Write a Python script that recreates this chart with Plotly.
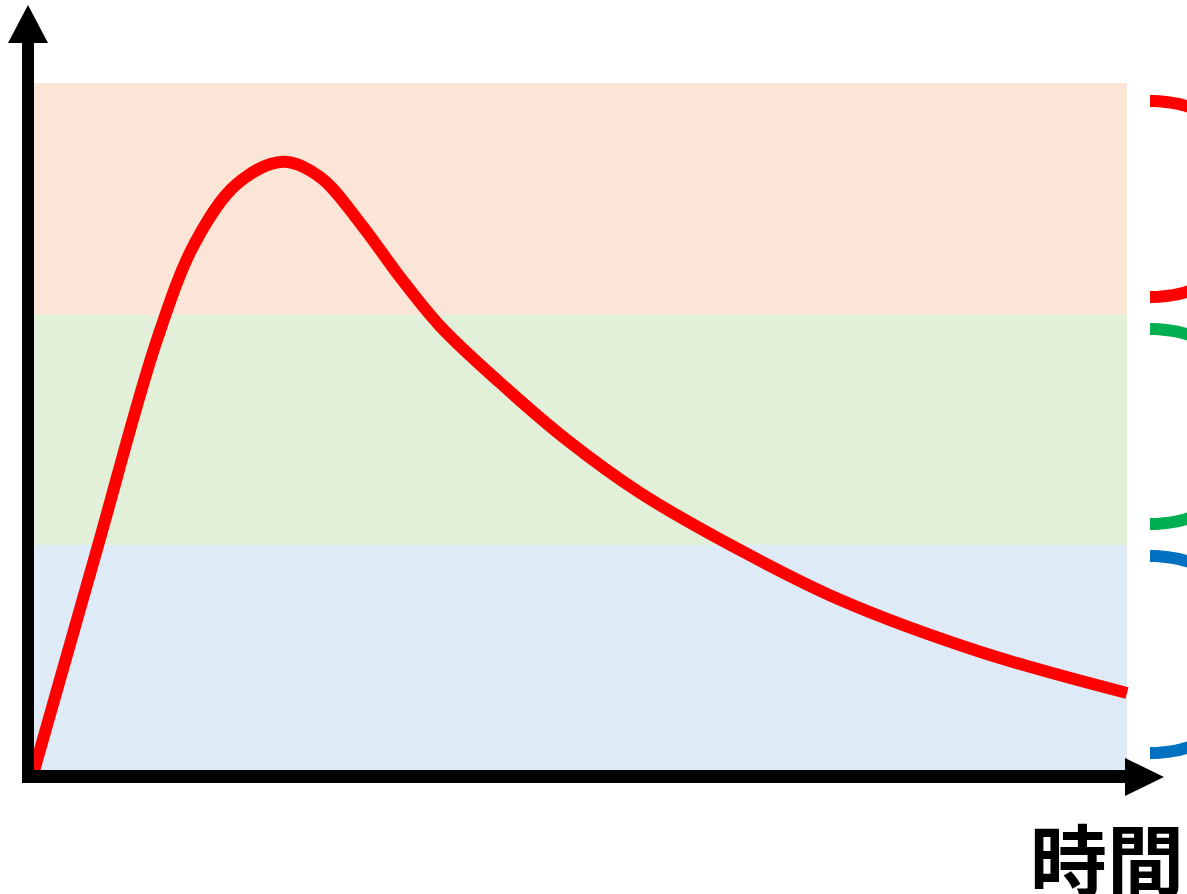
import math
import plotly.graph_objects as go

# ---- data ----
time_pts = [0, 5.76, 11.25, 14.73, 18.57, 22.78, 26.17, 29.83, 33.49, 37.15,
            42.63, 48.76, 55.44, 64.59, 73.74, 86.55, 100]
conc_pts = [0, 29.0, 56.4, 69.1, 76.8, 79.7, 77.7, 71.7, 64.6, 58.2,
            50.8, 43.3, 36.4, 28.9, 22.4, 15.6, 10.2]

band_low = [0, 29.6, 59.7]
band_high = [29.6, 59.7, 90]
band_fill = ["#DEEBF7", "#E2F0D9", "#FBE5D6"]
bracket_color = ["#0070C0", "#00B050", "#FF0000"]
x_label = "時間"

# ---- layout geometry (pixels) ----
W, H = 1187, 894
X0_PX, X100_PX = 34, 1127      # pixel of t=0 and t=100
Y0_PX, Y90_PX = 771, 83        # pixel of v=0 and v=90
sx = (X100_PX - X0_PX) / 100.0
sy = (Y0_PX - Y90_PX) / 90.0
x_range = [-X0_PX / sx, (W - X0_PX) / sx]
y_range = [(Y0_PX - H) / sy, Y0_PX / sy]


def px(x, y):
    return x / W, 1 - y / H


def closed_path(points):
    pts = [px(x, y) for x, y in points]
    return "M " + " L ".join(f"{a:.5f},{b:.5f}" for a, b in pts) + " Z"


def open_path(points):
    pts = [px(x, y) for x, y in points]
    return "M " + " L ".join(f"{a:.5f},{b:.5f}" for a, b in pts)


fig = go.Figure()
fig.add_trace(go.Scatter(
    x=time_pts, y=conc_pts, mode="lines",
    line=dict(color="#FF0000", width=12, shape="spline", smoothing=1.0),
    hoverinfo="skip", cliponaxis=True,
))

shapes = []
# background bands
for lo, hi, col in zip(band_low, band_high, band_fill):
    shapes.append(dict(type="rect", xref="x", yref="y", x0=0, x1=100, y0=lo, y1=hi,
                       fillcolor=col, line=dict(width=0), layer="below"))

# axes with arrowheads
shapes.append(dict(type="line", xref="paper", yref="paper",
                   x0=px(28, 783)[0], y0=px(28, 783)[1], x1=px(28, 40)[0], y1=px(28, 40)[1],
                   line=dict(color="black", width=12), layer="above"))
shapes.append(dict(type="path", xref="paper", yref="paper",
                   path=closed_path([(8, 43), (28, 5), (48, 43)]),
                   fillcolor="black", line=dict(width=0), layer="above"))
shapes.append(dict(type="line", xref="paper", yref="paper",
                   x0=px(22, 776.5)[0], y0=px(22, 776.5)[1], x1=px(1128, 776.5)[0], y1=px(1128, 776.5)[1],
                   line=dict(color="black", width=13), layer="above"))
shapes.append(dict(type="path", xref="paper", yref="paper",
                   path=closed_path([(1125, 758), (1164, 777), (1125, 796)]),
                   fillcolor="black", line=dict(width=0), layer="above"))

# right-hand brackets (parenthesis arcs)
band_px = [(556, 753), (329, 524), (101, 297)]
for (top, bot), col in zip(band_px, bracket_color):
    cy = (top + bot) / 2
    ry = (bot - top) / 2
    rx = 115
    pts = []
    n = 80
    for i in range(n + 1):
        th = math.pi * i / n
        pts.append((1150 + rx * math.sin(th), cy - ry * math.cos(th)))
    shapes.append(dict(type="path", xref="paper", yref="paper", path=open_path(pts),
                       line=dict(color=col, width=12), layer="above"))

fig.update_layout(
    width=W, height=H,
    margin=dict(l=0, r=0, t=0, b=0),
    paper_bgcolor="white", plot_bgcolor="white",
    showlegend=False,
    xaxis=dict(range=x_range, visible=False, fixedrange=True),
    yaxis=dict(range=y_range, visible=False, fixedrange=True),
    shapes=shapes,
    annotations=[dict(
        text=f"<b>{x_label}</b>", xref="paper", yref="paper",
        x=px(1186, 856)[0], y=px(1186, 856)[1], xanchor="right", yanchor="middle",
        showarrow=False,
        font=dict(family="Noto Sans CJK JP", size=77, color="black"),
    )],
)

fig.write_html("out.html", config={"displayModeBar": False},
               post_script="document.body.style.margin='0px';document.body.style.overflow='hidden';")
